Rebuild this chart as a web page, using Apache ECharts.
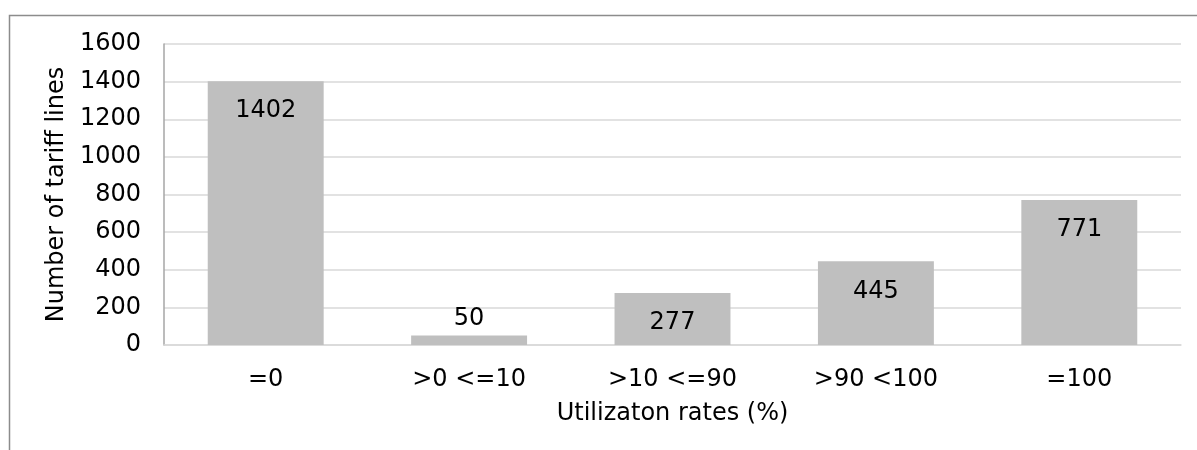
<!DOCTYPE html>
<html>
<head>
<meta charset="utf-8">
<script src="https://cdn.jsdelivr.net/npm/echarts@6/dist/echarts.min.js"></script>
<style>
html,body{margin:0;padding:0;background:#fff;}
#chart{width:1197px;height:450px;}
</style>
</head>
<body>
<div id="chart"></div>
<script>
const categories = ['=0', '>0 <=10', '>10 <=90', '>90 <100', '=100'];
const values = [1402, 50, 277, 445, 771];
const yTicks = [0, 200, 400, 600, 800, 1000, 1200, 1400, 1600];
const yAxisTitle = 'Number of tariff lines';
const xAxisTitle = 'Utilizaton rates (%)';

const FONT = 'DejaVu Sans';
const FS = 24;
const TXT = '#000';

const chart = echarts.init(document.getElementById('chart'), null, {renderer: 'canvas'});

const barData = values.map(v => ({
  value: v,
  label: v < 150 ? {position: 'top', distance: 5} : {position: 'insideTop', distance: 18}
}));

chart.setOption({
  animation: false,
  backgroundColor: '#fff',
  graphic: [{
    type: 'rect',
    shape: {x: 9.5, y: 15.5, width: 1300, height: 600},
    style: {fill: 'none', stroke: '#8c8c8c', lineWidth: 1.5},
    silent: true
  }],
  grid: {left: 164, right: 16, top: 44, bottom: 105},
  xAxis: {
    type: 'category',
    data: categories,
    name: xAxisTitle,
    nameLocation: 'middle',
    nameGap: 57,
    nameTextStyle: {fontFamily: FONT, fontSize: FS, color: TXT},
    axisLine: {lineStyle: {color: '#d9d9d9', width: 1.5}},
    axisTick: {show: false},
    axisLabel: {fontFamily: FONT, fontSize: FS, color: TXT, margin: 23}
  },
  yAxis: {
    type: 'value',
    min: yTicks[0],
    max: yTicks[yTicks.length - 1],
    interval: yTicks[1] - yTicks[0],
    name: yAxisTitle,
    nameLocation: 'middle',
    nameGap: 88,
    nameTextStyle: {fontFamily: FONT, fontSize: FS, color: TXT},
    axisLine: {show: true, lineStyle: {color: '#a6a6a6', width: 1.5}},
    axisTick: {show: false},
    axisLabel: {fontFamily: FONT, fontSize: FS, color: TXT, margin: 23, formatter: v => String(v)},
    splitLine: {lineStyle: {color: '#d9d9d9', width: 1.5}}
  },
  series: [{
    type: 'bar',
    data: barData,
    barWidth: '57%',
    itemStyle: {color: '#bfbfbf'},
    label: {show: true, fontFamily: FONT, fontSize: FS, color: TXT}
  }]
});
</script>
</body>
</html>
